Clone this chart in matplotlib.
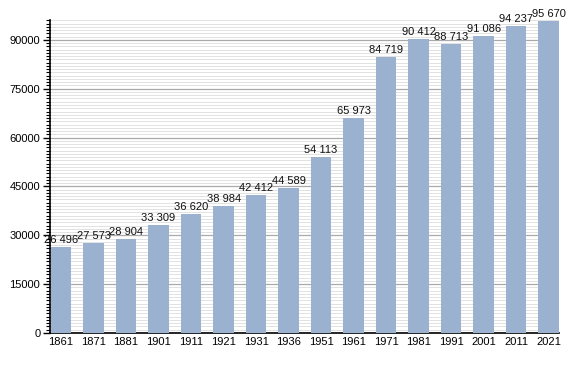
import matplotlib
matplotlib.use("Agg")
import matplotlib.pyplot as plt
from matplotlib.ticker import MultipleLocator

years = ["1861", "1871", "1881", "1901", "1911", "1921", "1931", "1936",
         "1951", "1961", "1971", "1981", "1991", "2001", "2011", "2021"]
population = [26496, 27573, 28904, 33309, 36620, 38984, 42412, 44589,
              54113, 65973, 84719, 90412, 88713, 91086, 94237, 95670]

plt.rcParams['font.family'] = ['Liberation Sans', 'DejaVu Sans']

fig = plt.figure(figsize=(5.88, 3.73), dpi=100)
ax = fig.add_axes([50/588, 1-333/373, 509/588, 313/373])

x = list(range(len(years)))
ax.bar(x, population, width=0.63, color="#9ab2cf", zorder=3)

for xi, v in zip(x, population):
    lbl = f"{v:,}".replace(",", " ")
    ax.text(xi, v + 600, lbl, ha="center", va="bottom", fontsize=8, color="#111111", zorder=4)

ax.set_xlim(-0.34, 15.32)
ax.set_ylim(0, 96100)
ax.set_xticks(x)
ax.set_xticklabels(years, fontsize=8)
ax.tick_params(axis="x", length=0, pad=3)
ax.yaxis.set_major_locator(MultipleLocator(15000))
ax.yaxis.set_minor_locator(MultipleLocator(1000))
ax.tick_params(axis="y", which="major", length=5, width=1, labelsize=8, pad=2)
ax.tick_params(axis="y", which="minor", length=3, width=0.8)
ax.grid(axis="y", which="minor", color="#e2e2e2", linewidth=0.7, zorder=0)
ax.grid(axis="y", which="major", color="#aaaaaa", linewidth=0.9, zorder=1)
for s in ["top", "right"]:
    ax.spines[s].set_visible(False)
ax.spines["left"].set_linewidth(1.2)
ax.spines["bottom"].set_linewidth(1.2)
ax.set_axisbelow(True)

fig.savefig("out.png", dpi=100)
